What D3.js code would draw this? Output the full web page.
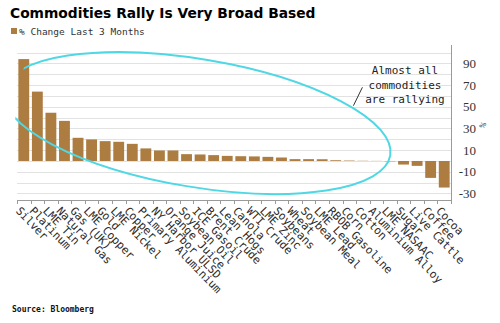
<!DOCTYPE html>
<html>
<head>
<meta charset="utf-8">
<script src="https://cdn.jsdelivr.net/npm/d3@7"></script>
<style>
  html, body { margin: 0; padding: 0; background: #fff; }
  svg { display: block; }
</style>
</head>
<body>
<svg id="chart" width="500" height="323"></svg>
<script>
// Three-month percentage change by commodity
const categories = [
  "Silver", "Platinum", "LME Tin", "Natural Gas", "Gas (UK)", "LME Copper",
  "Gold", "LME Nickel", "Copper", "Primary Aluminium", "NY Harbor ULSD",
  "Orange Juice", "Soybean Oil", "ICE Gasoil", "Brent Crude", "Lean Hogs",
  "Canola", "WTI Crude", "LME Zinc", "Soybeans", "Wheat", "Soybean Meal",
  "LME Lead", "RBOB Gasoline", "Corn", "Cotton", "Aluminium Alloy",
  "LME NASAAC", "Sugar", "Live Cattle", "Coffee", "Cocoa"
];
const changes = [
  94, 64, 44.5, 37, 21.4, 19.9,
  18.3, 17.7, 15.8, 11.6, 9.7,
  9.7, 6.3, 6.0, 5.4, 4.7,
  4.4, 4.2, 3.8, 3.2, 1.7, 1.7,
  1.6, 0.7, 0.4, 0.2, 0.1,
  -0.3, -3.3, -4.5, -15.6, -24.5
];
const yTickLabels = [90, 70, 50, 30, 10, -10, -30];
const gridValues = [-30, -20, -10, 0, 10, 20, 30, 40, 50, 60, 70, 80, 90, 100];
const annotationLines = ["Almost all", "commodities", "are rallying"];

const barColor = "#AC7C40";
const ringColor = "#4FD8E4";

const svg = d3.select("#chart");
const plotLeft = 17, plotRight = 451, plotTop = 45, plotBottom = 200;

const x = d3.scaleBand()
  .domain(categories)
  .range([plotLeft, plotRight])
  .paddingInner(0.2)
  .paddingOuter(0.1);

const y = d3.scaleLinear()
  .domain([-36, 107])
  .range([plotBottom, plotTop]);

// Title and legend
svg.append("text")
  .attr("x", 10).attr("y", 17.5)
  .attr("font-family", "DejaVu Sans, Verdana, sans-serif")
  .attr("font-weight", "bold")
  .attr("font-size", 13.8)
  .attr("fill", "#000")
  .text("Commodities Rally Is Very Broad Based");

svg.append("rect")
  .attr("x", 11).attr("y", 28).attr("width", 6).attr("height", 6)
  .attr("fill", barColor);
svg.append("text")
  .attr("x", 19).attr("y", 34.5)
  .attr("font-family", "DejaVu Sans Mono, monospace")
  .attr("font-size", 9.5)
  .attr("fill", "#333")
  .text("% Change Last 3 Months");

// Horizontal gridlines
svg.append("g")
  .selectAll("line")
  .data(gridValues)
  .join("line")
  .attr("x1", plotLeft).attr("x2", plotRight)
  .attr("y1", d => Math.round(y(d)) + 0.5)
  .attr("y2", d => Math.round(y(d)) + 0.5)
  .attr("stroke", "#e2e2e2")
  .attr("stroke-width", 1);

// Bars
svg.append("g")
  .selectAll("rect")
  .data(categories.map((c, i) => ({ c, v: changes[i] })))
  .join("rect")
  .attr("x", d => x(d.c))
  .attr("width", x.bandwidth())
  .attr("y", d => y(Math.max(0, d.v)))
  .attr("height", d => Math.abs(y(d.v) - y(0)))
  .attr("fill", barColor);

// Bottom axis line with ticks at category boundaries
svg.append("line")
  .attr("x1", plotLeft).attr("x2", plotRight)
  .attr("y1", plotBottom + 0.5).attr("y2", plotBottom + 0.5)
  .attr("stroke", "#9a9a9a");
const step = x.step();
svg.append("g")
  .selectAll("line")
  .data(categories.concat([null]))
  .join("line")
  .attr("x1", (d, i) => Math.round(plotLeft + i * step) + 0.5)
  .attr("x2", (d, i) => Math.round(plotLeft + i * step) + 0.5)
  .attr("y1", plotBottom).attr("y2", plotBottom + 4)
  .attr("stroke", "#9a9a9a");

// Category labels, slanted
svg.append("g")
  .selectAll("text")
  .data(categories)
  .join("text")
  .attr("transform", d => `translate(${x(d) + x.bandwidth() / 2 - 3},${plotBottom + 6}) rotate(46)`)
  .attr("dy", "0.7em")
  .attr("font-family", "DejaVu Sans Mono, monospace")
  .attr("font-size", 11.2)
  .attr("fill", "#2a2a2a")
  .text(d => d);

// Right value axis
svg.append("line")
  .attr("x1", plotRight + 0.5).attr("x2", plotRight + 0.5)
  .attr("y1", plotTop).attr("y2", plotBottom)
  .attr("stroke", "#9a9a9a");

const yAxis = d3.axisRight(y)
  .tickValues(yTickLabels)
  .tickSize(0)
  .tickPadding(0)
  .tickFormat(d => (d < 0 ? "-" : "") + Math.abs(d));
const yg = svg.append("g")
  .attr("transform", `translate(${plotRight},0)`)
  .call(yAxis);
yg.select(".domain").remove();
yg.selectAll("text")
  .attr("x", 25)
  .attr("text-anchor", "end")
  .attr("font-family", "Liberation Serif, Times New Roman, serif")
  .attr("font-size", 13)
  .attr("fill", "#333");

svg.append("text")
  .attr("transform", `translate(485,${y(32)}) rotate(-60)`)
  .attr("text-anchor", "middle")
  .attr("font-family", "DejaVu Sans, sans-serif")
  .attr("font-size", 7)
  .attr("fill", "#333")
  .text("%");

// Highlight ring around the rising commodities
svg.append("defs").append("clipPath").attr("id", "plotClip")
  .append("rect")
  .attr("x", plotLeft).attr("y", 0)
  .attr("width", plotRight - plotLeft).attr("height", 323);

const ringCx = plotLeft + 13.27 * step;
const ringCy = y(35);
const ringRx = 14.45 * step;
const ringRy = y(0) - y(59);
svg.append("ellipse")
  .attr("clip-path", "url(#plotClip)")
  .attr("transform", `rotate(9.5, ${ringCx}, ${ringCy})`)
  .attr("cx", ringCx).attr("cy", ringCy)
  .attr("rx", ringRx).attr("ry", ringRy)
  .attr("fill", "none")
  .attr("stroke", ringColor)
  .attr("stroke-width", 2);

// Annotation text and pointer
const noteX = x("Aluminium Alloy") + 34;
const note = svg.append("text")
  .attr("x", noteX)
  .attr("y", y(80))
  .attr("text-anchor", "middle")
  .attr("font-family", "DejaVu Sans Mono, monospace")
  .attr("font-size", 11)
  .attr("fill", "#222");
note.selectAll("tspan")
  .data(annotationLines)
  .join("tspan")
  .attr("x", noteX)
  .attr("dy", (d, i) => i === 0 ? 0 : 14.5)
  .text(d => d);

svg.append("line")
  .attr("x1", x("Cotton") - 4).attr("y1", y(51))
  .attr("x2", x("Cotton") + 5).attr("y2", y(68))
  .attr("stroke", "#333")
  .attr("stroke-width", 1);

// Source line
svg.append("text")
  .attr("x", 12).attr("y", 312)
  .attr("font-family", "DejaVu Sans Mono, monospace")
  .attr("font-weight", "bold")
  .attr("font-size", 8)
  .attr("fill", "#111")
  .text("Source: Bloomberg");
</script>
</body>
</html>
